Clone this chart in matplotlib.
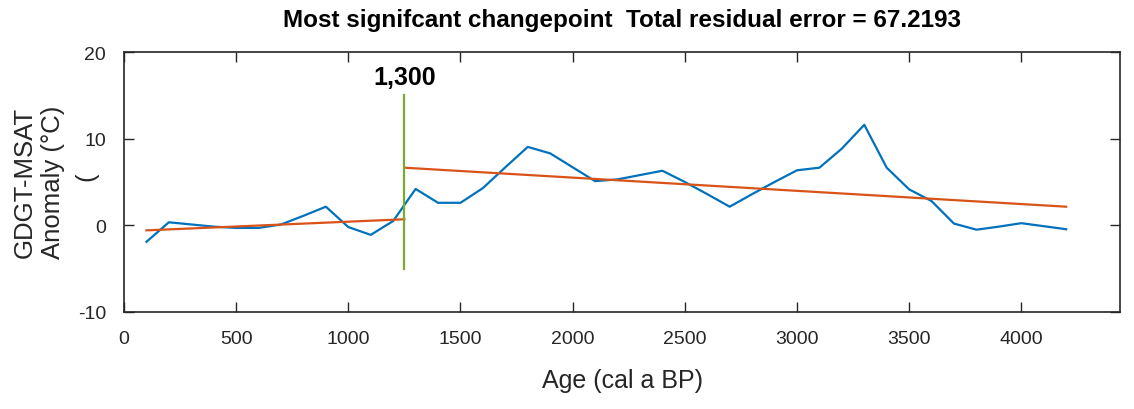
import numpy as np
import matplotlib
matplotlib.use("Agg")
import matplotlib.pyplot as plt

plt.rcParams['font.family'] = ['Liberation Sans', 'DejaVu Sans']
plt.rcParams['axes.unicode_minus'] = False

# GDGT-MSAT anomaly record
age = [100, 200, 300, 400, 500, 600, 700, 800, 900, 1000, 1100, 1200,
       1300, 1400, 1500, 1600, 1700, 1800, 1900, 2000, 2100, 2200, 2300,
       2400, 2500, 2600, 2700, 2800, 2900, 3000, 3100, 3200, 3300, 3400,
       3500, 3600, 3700, 3800, 3900, 4000, 4100, 4200]
anomaly = [-1.9, 0.35, 0.1, -0.15, -0.3, -0.3, 0.1, 1.1, 2.15, -0.2, -1.1, 0.5,
           4.2, 2.6, 2.6, 4.3, 6.7, 9.05, 8.3, 6.7, 5.1, 5.3, 5.8,
           6.3, 5.0, 3.6, 2.15, 3.6, 5.0, 6.35, 6.65, 8.85, 11.6, 6.65,
           4.15, 2.8, 0.2, -0.5, -0.15, 0.25, -0.1, -0.45]

# piecewise linear fits either side of the changepoint
fit1_x = [100, 1250]
fit1_y = [-0.58, 0.7]
fit2_x = [1250, 4200]
fit2_y = [6.65, 2.15]

changepoint = 1250
cp_label = '1,300'
cp_span = [-5, 15]

title = 'Most signifcant changepoint  Total residual error = 67.2193'

fig = plt.figure(figsize=(11.34, 4.10), dpi=100)
ax = fig.add_axes([124 / 1134, 1 - 313 / 410, (1120 - 124) / 1134, (313 - 53) / 410])

ax.plot(age, anomaly, color='#0072BD', linewidth=1.6)
ax.plot(fit1_x, fit1_y, color='#D95319', linewidth=1.6)
ax.plot(fit2_x, fit2_y, color='#D95319', linewidth=1.6)
ax.plot([changepoint, changepoint], cp_span, color='#77AC30', linewidth=1.6)
ax.text(changepoint, 17.1, cp_label, ha='center', va='center',
        fontsize=18, fontweight='bold')

ax.set_xlim(0, 4440)
ax.set_ylim(-10, 20)
ax.set_xticks(np.arange(0, 4001, 500))
ax.set_yticks([-10, 0, 10, 20])

ax.tick_params(direction='in', top=True, right=True, length=7, width=1,
               labelsize=14, colors='#262626', pad=13)
for s in ax.spines.values():
    s.set_color('#262626')
    s.set_linewidth(1.2)

ax.set_title(title, fontsize=17.5, fontweight='bold', pad=19)
ax.set_xlabel('Age (cal a BP)', fontsize=18, labelpad=15, color='#262626')

# y label: two lines plus a stray bracket, as in the original
fig.text(39 / 1134, 1 - 182 / 410, 'GDGT-MSAT\nAnomaly (°C)', rotation=90,
         ha='center', va='center', fontsize=18.5, linespacing=1.2,
         multialignment='center', color='#262626')
fig.text(86 / 1134, 1 - 177 / 410, '(', rotation=90,
         ha='center', va='center', fontsize=18.5, color='#262626')

fig.savefig('out.png', dpi=100)
